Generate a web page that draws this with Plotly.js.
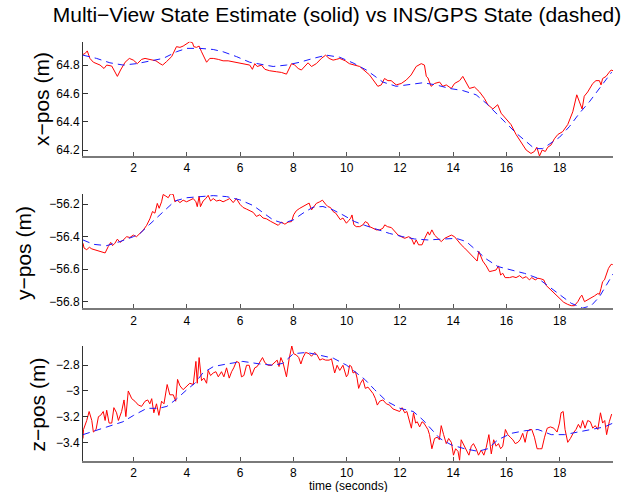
<!DOCTYPE html>
<html>
<head>
<meta charset="utf-8">
<script src="https://cdn.plot.ly/plotly-3.0.1.min.js"></script>
<style>html,body{margin:0;padding:0;background:#fff}#chart{width:638px;height:492px}</style>
</head>
<body>
<div id="chart"></div>
<script>
// ---- x-position: multi-view estimate (solid red) ----
const tXest = [0.1,0.18,0.26,0.36,0.49,0.61,0.74,0.89,0.99,1.18,1.30,1.39,1.51,1.68,1.84,1.99,2.14,2.30,2.43,2.61,2.84,2.99,3.09,3.24,3.43,3.61,3.74,3.86,3.99,4.11,4.21,4.26,4.36,4.46,4.55,4.64,4.74,4.86,4.99,5.18,5.36,5.55,5.68,5.86,6.11,6.36,6.46,6.55,6.64,6.80,6.93,7.11,7.36,7.55,7.74,7.84,7.93,8.05,8.18,8.30,8.43,8.55,8.68,8.86,9.05,9.21,9.34,9.49,9.61,9.74,9.95,10.1,10.49,10.86,11.17,11.3,11.42,11.55,11.67,11.86,12.05,12.24,12.42,12.61,12.8,12.92,12.99,13.05,13.17,13.3,13.49,13.61,13.74,13.93,14.05,14.24,14.36,14.49,14.61,14.8,14.99,15.17,15.3,15.49,15.67,15.8,15.99,16.17,16.36,16.55,16.74,16.92,17.05,17.14,17.24,17.34,17.46,17.55,17.67,17.8,17.93,18.11,18.3,18.49,18.64,18.74,18.84,18.92,19.05,19.24,19.36,19.49,19.55,19.61,19.74,19.86,19.93,20.0];
const xEst = [64.875,64.882,64.90,64.847,64.82,64.81,64.80,64.776,64.80,64.793,64.75,64.72,64.765,64.82,64.847,64.835,64.81,64.84,64.847,64.84,64.83,64.81,64.80,64.825,64.86,64.93,64.925,64.934,64.953,64.965,64.958,64.93,64.925,64.934,64.894,64.86,64.82,64.847,64.847,64.84,64.83,64.83,64.825,64.816,64.81,64.80,64.77,64.81,64.79,64.80,64.77,64.76,64.753,64.748,64.736,64.776,64.81,64.80,64.776,64.765,64.79,64.816,64.79,64.81,64.847,64.87,64.847,64.835,64.84,64.847,64.83,64.81,64.79,64.73,64.65,64.66,64.705,64.69,64.69,64.66,64.67,64.695,64.73,64.79,64.81,64.80,64.72,64.71,64.65,64.67,64.68,64.65,64.66,64.635,64.67,64.69,64.72,64.68,64.635,64.645,64.61,64.565,64.52,64.49,64.52,64.46,64.42,64.38,64.31,64.25,64.20,64.176,64.19,64.22,64.158,64.20,64.19,64.22,64.235,64.28,64.31,64.33,64.38,64.47,64.59,64.54,64.49,64.58,64.61,64.67,64.69,64.69,64.66,64.705,64.72,64.75,64.765,64.76];
// ---- x-position: INS/GPS (dashed blue) ----
const tXins = [0.1,0.61,1.11,1.61,2.11,2.61,3.11,3.61,3.99,4.49,4.99,5.36,5.86,6.36,6.86,7.24,7.74,8.24,8.74,9.24,9.74,10.24,10.74,11.05,11.36,11.86,12.36,12.86,13.36,13.86,14.36,14.86,15.24,15.61,15.99,16.36,16.74,17.05,17.36,17.67,17.99,18.36,18.74,19.11,19.49,19.86,19.95];
const xIns = [64.87,64.847,64.816,64.80,64.81,64.83,64.847,64.894,64.918,64.918,64.91,64.894,64.86,64.82,64.80,64.79,64.80,64.82,64.847,64.87,64.855,64.815,64.765,64.72,64.68,64.65,64.66,64.675,64.66,64.635,64.62,64.59,64.53,64.46,64.39,64.32,64.26,64.21,64.21,64.25,64.29,64.365,64.46,64.54,64.635,64.73,64.75];

// ---- y-position: estimate ----
const tYest = [0.1,0.14,0.24,0.34,0.43,0.55,0.74,0.93,1.05,1.14,1.21,1.30,1.39,1.49,1.61,1.74,1.86,1.99,2.11,2.24,2.36,2.49,2.61,2.71,2.80,2.89,2.96,3.05,3.11,3.21,3.30,3.39,3.49,3.55,3.64,3.74,3.86,3.99,4.11,4.24,4.34,4.39,4.46,4.51,4.61,4.71,4.80,4.89,4.99,5.11,5.24,5.36,5.49,5.61,5.74,5.86,5.99,6.11,6.24,6.36,6.49,6.61,6.74,6.86,6.99,7.14,7.30,7.43,7.55,7.68,7.80,7.93,8.01,8.11,8.24,8.36,8.49,8.59,8.68,8.76,8.86,8.99,9.09,9.21,9.30,9.39,9.49,9.59,9.68,9.76,9.86,9.99,10.08,10.15,10.20,10.27,10.36,10.49,10.61,10.70,10.80,10.86,10.99,11.11,11.24,11.36,11.43,11.53,11.68,11.80,11.93,12.05,12.18,12.33,12.43,12.53,12.61,12.70,12.83,12.93,12.99,13.05,13.11,13.20,13.30,13.43,13.55,13.68,13.80,13.93,14.05,14.18,14.30,14.43,14.55,14.68,14.80,14.90,14.96,15.02,15.11,15.24,15.36,15.49,15.61,15.70,15.78,15.86,15.95,16.11,16.24,16.36,16.49,16.61,16.74,16.86,16.95,17.08,17.18,17.30,17.40,17.49,17.61,17.74,17.86,17.99,18.15,18.30,18.43,18.55,18.68,18.78,18.83,18.93,19.05,19.18,19.30,19.43,19.49,19.55,19.61,19.68,19.74,19.83,19.93,19.99];
const yEst = [-56.44,-56.47,-56.48,-56.465,-56.475,-56.48,-56.49,-56.50,-56.46,-56.435,-56.455,-56.44,-56.415,-56.435,-56.42,-56.40,-56.405,-56.39,-56.40,-56.38,-56.36,-56.33,-56.29,-56.245,-56.255,-56.195,-56.225,-56.185,-56.14,-56.15,-56.16,-56.135,-56.14,-56.185,-56.175,-56.19,-56.175,-56.185,-56.175,-56.165,-56.185,-56.215,-56.15,-56.215,-56.18,-56.165,-56.145,-56.18,-56.165,-56.18,-56.175,-56.185,-56.175,-56.165,-56.19,-56.165,-56.20,-56.22,-56.23,-56.24,-56.25,-56.275,-56.265,-56.285,-56.29,-56.305,-56.317,-56.33,-56.31,-56.323,-56.31,-56.307,-56.265,-56.24,-56.225,-56.215,-56.20,-56.193,-56.235,-56.215,-56.195,-56.185,-56.175,-56.20,-56.215,-56.22,-56.245,-56.255,-56.275,-56.295,-56.285,-56.317,-56.30,-56.286,-56.266,-56.327,-56.338,-56.338,-56.327,-56.307,-56.317,-56.338,-56.348,-56.358,-56.358,-56.348,-56.327,-56.338,-56.344,-56.369,-56.39,-56.40,-56.41,-56.40,-56.41,-56.447,-56.42,-56.45,-56.45,-56.41,-56.39,-56.37,-56.39,-56.358,-56.39,-56.41,-56.43,-56.41,-56.40,-56.39,-56.40,-56.43,-56.45,-56.47,-56.49,-56.51,-56.53,-56.55,-56.49,-56.51,-56.55,-56.58,-56.615,-56.61,-56.605,-56.58,-56.636,-56.625,-56.652,-56.652,-56.646,-56.652,-56.64,-56.656,-56.646,-56.666,-56.652,-56.666,-56.656,-56.66,-56.666,-56.70,-56.718,-56.738,-56.755,-56.78,-56.804,-56.817,-56.825,-56.825,-56.80,-56.77,-56.76,-56.80,-56.79,-56.775,-56.765,-56.75,-56.755,-56.718,-56.677,-56.666,-56.64,-56.595,-56.57,-56.572];
// ---- y-position: INS/GPS ----
const tYins = [0.1,0.49,0.99,1.49,1.99,2.24,2.61,2.99,3.3,3.55,3.99,4.49,4.99,5.49,5.99,6.49,6.86,7.24,7.61,7.99,8.36,8.74,9.11,9.49,9.86,10.3,10.68,11.18,11.61,12.11,12.55,13.05,13.68,14.11,14.49,14.86,15.24,15.68,16.18,16.68,17.18,17.61,18.05,18.43,18.86,19.18,19.49,19.8,20.0];
const yIns = [-56.42,-56.447,-56.455,-56.43,-56.40,-56.38,-56.323,-56.266,-56.214,-56.18,-56.16,-56.153,-56.147,-56.153,-56.173,-56.208,-56.25,-56.297,-56.317,-56.297,-56.255,-56.218,-56.214,-56.235,-56.266,-56.307,-56.33,-56.358,-56.38,-56.40,-56.414,-56.42,-56.416,-56.41,-56.43,-56.48,-56.537,-56.584,-56.605,-56.626,-56.656,-56.71,-56.76,-56.81,-56.84,-56.825,-56.77,-56.687,-56.63];

// ---- z-position: estimate ----
const tZest = [0.1,0.12,0.24,0.33,0.43,0.49,0.59,0.68,0.76,0.86,0.93,0.99,1.08,1.18,1.26,1.36,1.43,1.55,1.64,1.71,1.80,1.93,2.05,2.18,2.30,2.43,2.53,2.61,2.68,2.76,2.86,2.95,3.05,3.14,3.26,3.36,3.49,3.58,3.65,3.74,3.86,3.99,4.11,4.24,4.34,4.39,4.46,4.55,4.64,4.74,4.80,4.89,4.99,5.09,5.18,5.30,5.39,5.49,5.59,5.68,5.76,5.86,5.96,6.05,6.14,6.24,6.34,6.43,6.55,6.64,6.74,6.84,6.93,7.05,7.18,7.30,7.39,7.46,7.53,7.61,7.74,7.84,7.94,8.01,8.11,8.20,8.28,8.36,8.46,8.59,8.68,8.80,8.89,8.99,9.09,9.21,9.34,9.43,9.55,9.64,9.74,9.86,9.99,10.05,10.11,10.18,10.24,10.33,10.39,10.45,10.52,10.61,10.70,10.80,10.90,10.99,11.08,11.15,11.24,11.36,11.49,11.61,11.74,11.86,11.99,12.08,12.18,12.26,12.36,12.43,12.51,12.59,12.65,12.74,12.83,12.90,12.99,13.05,13.11,13.20,13.30,13.40,13.48,13.55,13.64,13.74,13.83,13.93,14.01,14.09,14.18,14.24,14.30,14.39,14.49,14.59,14.68,14.76,14.86,14.95,15.05,15.15,15.24,15.34,15.43,15.52,15.61,15.70,15.78,15.86,15.96,16.05,16.14,16.24,16.33,16.43,16.51,16.61,16.70,16.78,16.86,16.95,17.05,17.15,17.24,17.33,17.43,17.53,17.65,17.78,17.90,17.99,18.05,18.13,18.20,18.30,18.40,18.50,18.61,18.70,18.78,18.86,18.95,19.05,19.15,19.24,19.33,19.43,19.53,19.61,19.69,19.76,19.86,19.95];
const zEst = [-3.37,-3.30,-3.23,-3.16,-3.23,-3.32,-3.30,-3.20,-3.19,-3.16,-3.23,-3.15,-3.25,-3.25,-3.13,-3.17,-3.23,-3.16,-3.07,-3.20,-3.00,-3.06,-3.08,-3.11,-3.12,-3.08,-3.07,-3.10,-3.06,-3.17,-3.10,-3.19,-3.08,-3.10,-2.95,-3.03,-3.03,-3.08,-2.91,-2.96,-2.99,-2.96,-2.94,-2.95,-2.77,-2.94,-2.74,-2.92,-2.90,-2.94,-2.84,-2.88,-2.86,-2.85,-2.89,-2.85,-2.89,-2.82,-2.90,-2.85,-2.82,-2.77,-2.78,-2.89,-2.88,-2.80,-2.80,-2.88,-2.82,-2.81,-2.78,-2.74,-2.78,-2.80,-2.80,-2.78,-2.76,-2.81,-2.74,-2.78,-2.89,-2.75,-2.65,-2.71,-2.72,-2.74,-2.79,-2.74,-2.70,-2.71,-2.73,-2.70,-2.72,-2.76,-2.75,-2.76,-2.76,-2.75,-2.86,-2.80,-2.84,-2.80,-2.89,-2.87,-2.80,-2.81,-2.86,-2.85,-2.90,-2.98,-2.94,-2.91,-2.98,-2.97,-3.00,-3.02,-3.06,-3.11,-3.08,-3.07,-3.10,-3.11,-3.14,-3.15,-3.16,-3.13,-3.17,-3.16,-3.23,-3.29,-3.17,-3.25,-3.24,-3.28,-3.24,-3.25,-3.28,-3.30,-3.34,-3.45,-3.37,-3.36,-3.38,-3.27,-3.34,-3.41,-3.37,-3.40,-3.50,-3.45,-3.47,-3.54,-3.38,-3.42,-3.46,-3.50,-3.43,-3.41,-3.45,-3.50,-3.46,-3.50,-3.44,-3.34,-3.49,-3.38,-3.43,-3.41,-3.45,-3.43,-3.30,-3.34,-3.36,-3.38,-3.41,-3.40,-3.38,-3.33,-3.40,-3.32,-3.30,-3.30,-3.36,-3.45,-3.45,-3.45,-3.36,-3.29,-3.28,-3.29,-3.32,-3.25,-3.17,-3.16,-3.30,-3.40,-3.37,-3.33,-3.30,-3.26,-3.29,-3.23,-3.29,-3.23,-3.24,-3.29,-3.27,-3.30,-3.17,-3.25,-3.23,-3.34,-3.24,-3.18];
// ---- z-position: INS/GPS ----
const tZins = [0.1,0.6,1.0,1.6,2.0,2.5,2.95,3.25,3.6,4.0,4.3,4.6,5.0,5.5,6.1,6.75,7.25,7.6,8.0,8.5,9.0,9.5,10.0,10.3,10.68,11.05,11.5,12.0,12.5,12.86,13.18,13.5,13.93,14.43,14.93,15.3,15.68,16.18,16.68,17.18,17.68,18.18,18.68,19.18,19.68,20.0];
const zIns = [-3.34,-3.31,-3.28,-3.24,-3.19,-3.135,-3.135,-3.12,-3.065,-2.99,-2.94,-2.86,-2.81,-2.79,-2.77,-2.79,-2.80,-2.785,-2.71,-2.70,-2.72,-2.745,-2.80,-2.85,-2.91,-2.99,-3.08,-3.135,-3.16,-3.225,-3.30,-3.37,-3.42,-3.45,-3.47,-3.45,-3.38,-3.33,-3.31,-3.30,-3.34,-3.34,-3.32,-3.30,-3.28,-3.25];

// ---- axis ticks and labels ----
const timeTicks = [2,4,6,8,10,12,14,16,18];
const xTicks = [64.2,64.4,64.6,64.8];
const yTicks = [-56.8,-56.6,-56.4,-56.2];
const zTicks = [-3.4,-3.2,-3,-2.8];
const titleText = "Multi\u2212View State Estimate (solid) vs INS/GPS State (dashed)";
const yLabels = ["x\u2212pos (m)", "y\u2212pos (m)", "z\u2212pos (m)"];
const timeLabel = "time (seconds)";

const FONT = "Liberation Sans, Arial, Helvetica, sans-serif";
const est = (x, y, ax) => ({x, y, xaxis: 'x' + ax, yaxis: 'y' + ax, type: 'scatter', mode: 'lines',
  line: {color: '#ff0000', width: 1}, showlegend: false, hoverinfo: 'skip'});
const ins = (x, y, ax) => ({x, y, xaxis: 'x' + ax, yaxis: 'y' + ax, type: 'scatter', mode: 'lines',
  line: {color: '#1a1aff', width: 1, dash: '7px,5px'}, showlegend: false, hoverinfo: 'skip'});

const data = [
  est(tXest, xEst, ''), ins(tXins, xIns, ''),
  est(tYest, yEst, '2'), ins(tYins, yIns, '2'),
  est(tZest, zEst, '3'), ins(tZins, zIns, '3')
];

function xa(anchor) {
  return {anchor, range: [0.1, 20], tickvals: timeTicks, ticks: 'inside', ticklen: 4, tickwidth: 1,
    tickcolor: '#555', showline: true, linecolor: '#7a7a7a', linewidth: 2, showgrid: false, zeroline: false,
    tickfont: {size: 12, color: '#000', family: FONT}, domain: [0, 1]};
}
function ya(anchor, range, ticks, dom) {
  return {anchor, range, tickvals: ticks, ticks: 'inside', ticklen: 5, tickwidth: 1, tickcolor: '#333',
    showline: true, linecolor: '#333', linewidth: 1, showgrid: false, zeroline: false,
    tickfont: {size: 12, color: '#000', family: FONT}, domain: dom};
}
const H = 492, L = 83, W = 530;
const py = p => (H - p) / H;
const px = p => (p - L) / W;

const layout = {
  width: 638, height: 492,
  margin: {l: 83, r: 25, t: 0, b: 0},
  paper_bgcolor: '#fff', plot_bgcolor: '#fff',
  font: {family: FONT, color: '#000'},
  title: {text: titleText, font: {size: 21, family: FONT, color: '#000'},
    xref: 'container', yref: 'container', x: 337 / 638, xanchor: 'center', y: 1 - 15 / 492, yanchor: 'middle'},
  xaxis: xa('y'), xaxis2: xa('y2'), xaxis3: xa('y3'),
  yaxis: ya('x', [64.158, 64.965], xTicks, [py(156), py(41.7)]),
  yaxis2: ya('x2', [-56.841, -56.137], yTicks, [py(308.3), py(194)]),
  yaxis3: ya('x3', [-3.543, -2.65], zTicks, [py(460.7), py(346)]),
  annotations: [
    {text: yLabels[0], xref: 'paper', yref: 'paper', x: px(41.5), y: py(99.5), textangle: -90,
      xanchor: 'center', yanchor: 'middle', showarrow: false, font: {size: 21, family: FONT, color: '#000'}},
    {text: yLabels[1], xref: 'paper', yref: 'paper', x: px(24), y: py(253), textangle: -90,
      xanchor: 'center', yanchor: 'middle', showarrow: false, font: {size: 21, family: FONT, color: '#000'}},
    {text: yLabels[2], xref: 'paper', yref: 'paper', x: px(36.5), y: py(405), textangle: -90,
      xanchor: 'center', yanchor: 'middle', showarrow: false, font: {size: 21, family: FONT, color: '#000'}},
    {text: timeLabel, xref: 'paper', yref: 'paper', x: px(348), y: py(485.5),
      xanchor: 'center', yanchor: 'middle', showarrow: false, font: {size: 12, family: FONT, color: '#000'}}
  ]
};

Plotly.newPlot('chart', data, layout, {staticPlot: true, displayModeBar: false});
</script>
</body>
</html>
